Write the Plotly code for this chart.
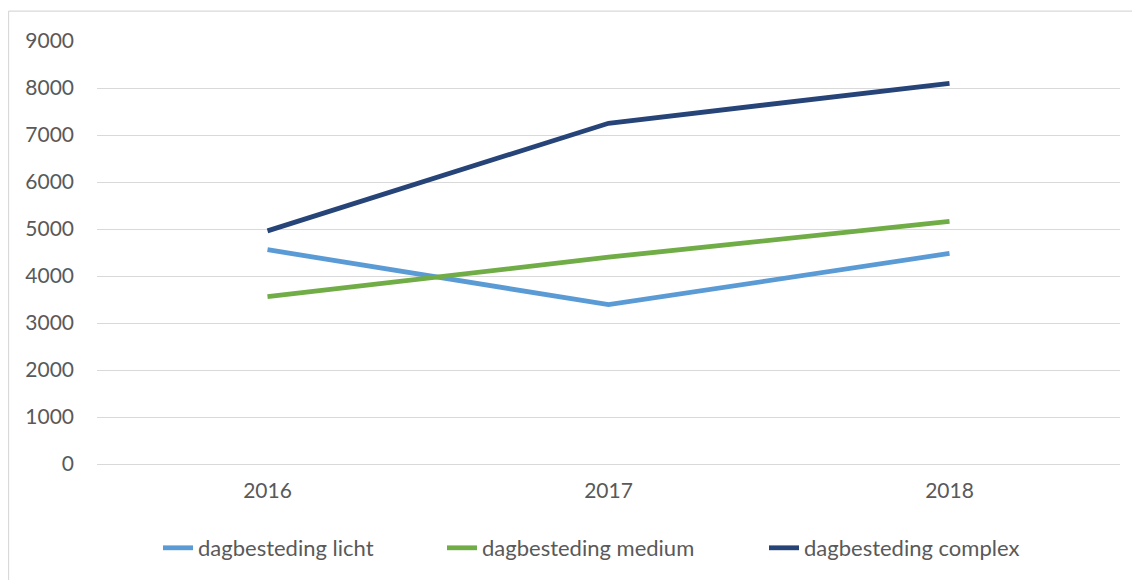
import plotly.graph_objects as go

years = ["2016", "2017", "2018"]
licht = [4560, 3390, 4480]
medium = [3560, 4400, 5160]
complex_ = [4960, 7250, 8100]
y_ticks = [0, 1000, 2000, 3000, 4000, 5000, 6000, 7000, 8000, 9000]

series = [
    ("dagbesteding licht", licht, "#5B9BD5", "legend"),
    ("dagbesteding medium", medium, "#70AD47", "legend2"),
    ("dagbesteding complex", complex_, "#264478", "legend3"),
]

fig = go.Figure()
for name, vals, col, lg in series:
    fig.add_trace(go.Scatter(x=years, y=vals, mode="lines", name=name, legend=lg,
                             line=dict(color=col, width=4.8)))

# page body adds an 8px offset, so the figure is sized/positioned accordingly
W, H = 1132, 572
L, R, T, B = 89, 20, 33, 115
pw, ph = W - L - R, H - T - B

leg_y = (457 - 540) / ph
def leg(xpx):
    return dict(orientation="h", x=(xpx - L) / pw, xanchor="left", y=leg_y,
                yanchor="middle", font=dict(size=22, color="#595959"),
                bgcolor="rgba(0,0,0,0)")

fig.update_layout(
    width=W, height=H,
    margin=dict(l=L, r=R, t=T, b=B),
    paper_bgcolor="white", plot_bgcolor="white",
    font=dict(family="Lato", size=21, color="#595959"),
    showlegend=True,
    legend=leg(150),
    legend2=leg(434),
    legend3=leg(756),
    xaxis=dict(type="category", range=[-0.5, 2.5], showgrid=False, showline=False,
               ticks="", ticklabelstandoff=12, tickfont=dict(size=21, color="#595959")),
    yaxis=dict(range=[0, 9000], tickvals=y_ticks, showgrid=True, gridcolor="#D9D9D9",
               gridwidth=1.3, zeroline=True, zerolinecolor="#D9D9D9", zerolinewidth=1.3,
               showline=False, ticks="", ticklabelstandoff=22,
               tickfont=dict(size=21, color="#595959")),
)

# outer chart border (top and left edges visible)
x0 = (0.5 - L) / pw
y1 = (H - 3 - B) / ph
fig.add_shape(type="line", xref="paper", yref="paper", x0=x0, x1=(W + 5 - L) / pw,
              y0=y1, y1=y1, line=dict(color="#D9D9D9", width=1.3))
fig.add_shape(type="line", xref="paper", yref="paper", x0=x0, x1=x0,
              y0=y1, y1=(-10 - B) / ph, line=dict(color="#D9D9D9", width=1.3))

fig.write_html("out.html")
